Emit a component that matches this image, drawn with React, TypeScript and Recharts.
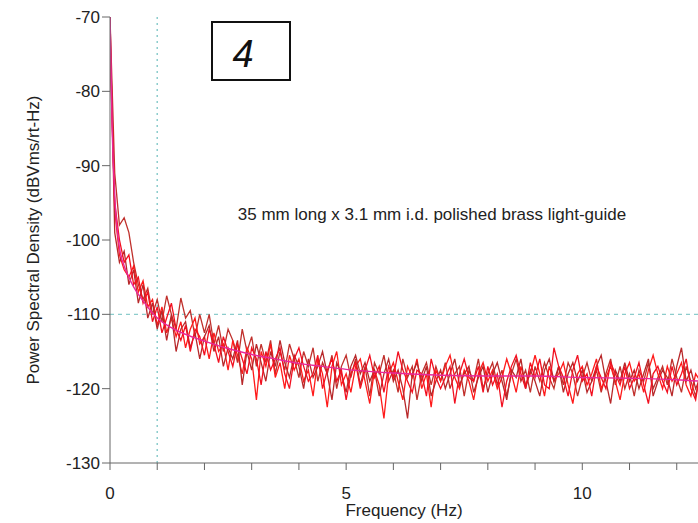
import React from 'react';
import { LineChart, Line, XAxis, YAxis, ReferenceLine } from 'recharts';

// frequency bins, 0.1 Hz apart
const FREQ_STEP = 0.1;

const TRACE_A = [
  -70, -91, -98, -97, -99, -103, -106, -108, -106.5, -110,
  -108, -111, -107.5, -110, -112, -107.8, -110.5, -109.5, -113, -110,
  -112.5, -110, -114, -111.5, -115, -112, -113.5, -116.5, -112, -115,
  -113, -117, -114, -116.5, -113.5, -118, -115, -117.5, -114, -116,
  -118.5, -115, -117, -114.5, -119, -116.5, -118, -115.5, -120, -117,
  -115.5, -118.5, -116, -119.5, -117, -121, -116.5, -118, -115.5, -119,
  -117.5, -120.5, -116, -118.5, -117, -121.5, -118, -116.5, -119.5, -117,
  -119, -116.5, -120, -118, -117, -121, -117.5, -119, -116, -120,
  -118, -116.5, -119.5, -117.5, -121, -118, -116, -119, -117.5, -120.5,
  -117, -119, -116.5, -118.5, -120, -117, -119.5, -116.5, -118, -121,
  -118.5, -116.5, -119, -117.5, -120.5, -118, -116, -119.5, -117, -120,
  -118, -121, -117.5, -119, -116.5, -120, -118.5, -117, -119.5, -116,
  -118.5, -120.5, -117, -119, -121, -118,
];

const TRACE_B = [
  -72, -96, -102, -104, -105, -103.5, -107, -105.5, -109, -108,
  -111.5, -109, -112.5, -110.5, -113, -111, -114.5, -112, -110.5, -114,
  -113, -116, -112.5, -115, -114, -117.5, -113.5, -115.5, -118, -114.5,
  -116, -121.5, -115, -117, -114, -118.5, -116.5, -120, -115.5, -117.5,
  -116, -119, -117.5, -121, -116, -118, -122.5, -117, -115, -119.5,
  -118, -120.5, -117, -116, -119, -122, -117.5, -119.5, -124, -118,
  -116.5, -119, -121.5, -117, -118.5, -116, -120, -118, -122.5, -117.5,
  -119, -117, -115.5, -118.5, -120, -117.5, -119, -121.5, -118, -116.5,
  -119, -117.5, -120, -118.5, -116, -118, -120.5, -117, -119.5, -118,
  -115.5, -118, -121, -117, -119, -118, -116.5, -119.5, -122, -118,
  -117, -119.5, -118, -116, -120, -118.5, -117, -119, -121.5, -118,
  -116.5, -119, -118, -120.5, -117.5, -115.5, -118, -120, -117, -119,
  -118, -116.5, -119.5, -121, -118, -119,
];

const TRACE_C = [
  -70, -99, -103, -101.5, -106, -104, -108.5, -106, -110.5, -108.5,
  -112, -109.5, -113.5, -110, -115, -112, -111, -114.5, -112.5, -116,
  -113, -111.5, -115, -113, -117, -114.5, -116, -113.5, -119.5, -115,
  -117.5, -114, -116.5, -119, -115, -117, -113.5, -116.5, -118.5, -115.5,
  -117, -120, -116, -118.5, -117, -115, -118, -121.5, -116.5, -118,
  -120.5, -117, -115.5, -118, -116.5, -119, -117.5, -121, -118, -116,
  -119, -117.5, -120, -124, -118, -116.5, -119, -117, -121, -119,
  -117.5, -120, -118, -116, -119.5, -118, -117, -120.5, -118.5, -117,
  -120.5, -118, -116.5, -119, -121.5, -117.5, -118.5, -116, -120, -117.5,
  -119, -121, -117.5, -116, -119, -117, -120.5, -118, -116.5, -119,
  -117.5, -120.5, -119, -117, -115.5, -119, -122, -117.5, -119, -116.5,
  -119, -117.5, -120, -118, -116, -121, -119, -117.5, -118.5, -121,
  -117, -114.5, -119, -117.5, -120, -118.5,
];

const TRACE_D = [
  -75, -95, -100, -103, -102, -106, -105, -108.5, -107, -111,
  -109, -112.5, -110.5, -108.5, -112, -113.5, -111.5, -115, -112, -113,
  -115.5, -112, -114, -116.5, -113, -115, -117, -114, -116, -118,
  -114.5, -116, -119.5, -115, -117.5, -116, -114.5, -118, -120, -116,
  -114.5, -117, -119, -118, -115.5, -120, -117.5, -116, -119, -117.5,
  -121.5, -118, -116.5, -120, -117.5, -115.5, -118.5, -117, -120.5, -117,
  -118.5, -115, -117.5, -119, -120.5, -117.5, -118, -121, -116, -118.5,
  -120, -118.5, -117, -122, -118, -116, -118.5, -119, -117, -120.5,
  -117, -119.5, -118, -122.5, -119, -117, -115.5, -118, -120, -116.5,
  -118.5, -116, -119.5, -120, -114.5, -117, -118.5, -121, -117.5, -115.5,
  -119, -118, -121, -117, -118.5, -120, -116.5, -118, -119.5, -117,
  -120, -118.5, -116.5, -119.5, -122, -118, -117, -119, -120.5, -117,
  -119.5, -118, -116, -120, -121.5, -117.5,
];

// smooth fit through the traces
const FIT_FREQ = [0, 0.05, 0.1, 0.2, 0.3, 0.4, 0.5, 0.7, 1, 1.3, 1.6, 2, 2.5, 3, 3.5, 4, 4.5, 5, 6, 7, 8, 9, 10, 11, 12, 12.5];
const FIT_DB = [-70, -86, -94, -101, -103.5, -105, -106.3, -108.2, -110.5, -111.8, -112.7, -113.6, -114.6, -115.4, -116, -116.6, -117, -117.4, -117.9, -118.2, -118.3, -118.3, -118.5, -118.6, -118.8, -119];

const X_TICKS = [0, 1, 2, 3, 4, 5, 6, 7, 8, 9, 10, 11, 12];
const Y_TICKS = [-130, -120, -110, -100, -90, -80, -70];

const rows = TRACE_A.map((a, i) => ({
  f: Math.round(i * FREQ_STEP * 10) / 10,
  a,
  b: TRACE_B[i],
  c: TRACE_C[i],
  d: TRACE_D[i],
}));
const fitRows = FIT_FREQ.map((f, i) => ({ f, fit: FIT_DB[i] }));

const FONT = '"Liberation Sans", Arial, sans-serif';

const XTick = ({ x, y, payload }: any) => {
  if (payload.value % 5 !== 0) return null;
  return (
    <text x={x} y={y + 15} dy="0.71em" textAnchor="middle" fontSize={17} fontFamily={FONT} fill="#222">
      {payload.value}
    </text>
  );
};

const App = () => {
  return (
    <div style={{ position: 'absolute', left: 0, top: 0, width: 698, height: 523, background: '#fff' }}>
      <LineChart width={698} height={523} data={rows} margin={{ top: 17, right: 0, bottom: 0, left: 0 }}>
        <XAxis
          dataKey="f"
          type="number"
          domain={[0, 12.45]}
          ticks={X_TICKS}
          allowDataOverflow
          height={60}
          tickSize={7}
          tick={<XTick />}
          stroke="#666"
        />
        <YAxis
          type="number"
          domain={[-130, -70]}
          ticks={Y_TICKS}
          allowDataOverflow
          width={110}
          tickSize={8}
          tick={{ fontSize: 17, fontFamily: FONT, fill: '#222' }}
          stroke="#666"
        />
        <ReferenceLine x={1} stroke="#8ccccc" strokeDasharray="2 4" strokeWidth={1.5} />
        <ReferenceLine y={-110} stroke="#8ccccc" strokeDasharray="4 4" strokeWidth={1.2} />
        <Line dataKey="a" stroke="#c0302c" strokeWidth={1.3} dot={false} isAnimationActive={false} />
        <Line dataKey="b" stroke="#ff1a1a" strokeWidth={1.3} dot={false} isAnimationActive={false} />
        <Line dataKey="c" stroke="#b8282a" strokeWidth={1.3} dot={false} isAnimationActive={false} />
        <Line dataKey="d" stroke="#f21020" strokeWidth={1.3} dot={false} isAnimationActive={false} />
        <Line data={fitRows} dataKey="fit" type="monotone" stroke="#e8289a" strokeWidth={1.4} dot={false} isAnimationActive={false} />
      </LineChart>
      <svg width={698} height={523} style={{ position: 'absolute', left: 0, top: 0, pointerEvents: 'none' }}>
        <text
          transform="translate(39,240) rotate(-90)"
          textAnchor="middle"
          fontSize={17}
          fontFamily={FONT}
          fill="#222"
        >
          Power Spectral Density (dBVms/rt-Hz)
        </text>
        <text x={404} y={516} textAnchor="middle" fontSize={17} fontFamily={FONT} fill="#222">
          Frequency (Hz)
        </text>
        <text x={432} y={220} textAnchor="middle" fontSize={17} fontFamily={FONT} fill="#222">
          35 mm long x 3.1 mm i.d. polished brass light-guide
        </text>
        <rect x={212} y={22} width={78} height={58} fill="#fff" stroke="#111" strokeWidth={2} />
        <text x={243} y={67} textAnchor="middle" fontSize={38} fontStyle="italic" fontFamily={FONT} fill="#111">
          4
        </text>
      </svg>
    </div>
  );
};

export default App;
